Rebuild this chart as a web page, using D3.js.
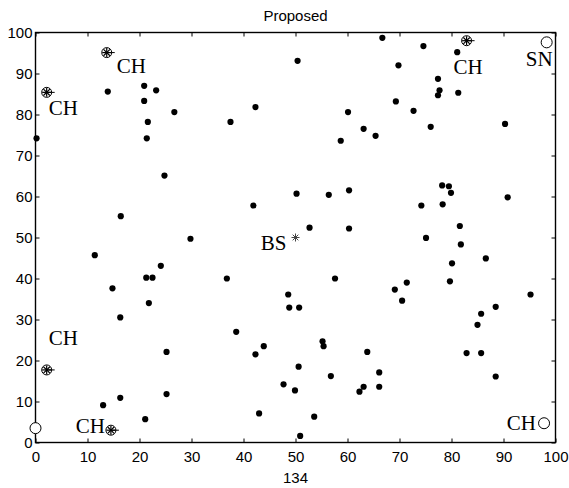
<!DOCTYPE html>
<html><head><meta charset="utf-8">
<script src="https://cdn.jsdelivr.net/npm/d3@7"></script>
<style>
html,body{margin:0;padding:0;background:#fff;}
svg{display:block;}
</style></head>
<body>
<svg id="c" width="569" height="488"></svg>
<script>
// ---- data ----
const title = "Proposed";
const xLabel = "134";
const xTicks = [0,10,20,30,40,50,60,70,80,90,100];
const yTicks = [0,10,20,30,40,50,60,70,80,90,100];

const nodeX = [13.9,20.9,23.2,20.9,26.7,21.6,21.4,0.2,24.8,16.4,29.8,
  66.7,50.4,42.3,37.5,60.1,63.1,65.4,58.7,50.2,56.4,60.3,41.9,52.7,60.3,
  74.6,81.1,69.8,77.4,77.7,77.4,81.3,69.3,72.7,76.0,90.3,78.2,79.5,79.9,90.8,74.2,78.3,81.6,75.1,
  11.4,24.1,21.3,22.5,14.8,21.8,16.3,25.2,25.2,16.3,13.0,21.1,
  36.8,57.6,48.6,48.8,50.7,38.6,43.9,42.3,55.2,55.4,63.8,66.1,50.6,56.8,47.7,49.9,63.1,62.3,66.1,43.0,53.6,50.9,
  81.8,80.1,86.6,69.1,71.4,70.5,79.7,95.2,88.5,85.7,85.0,82.9,85.7,88.5];
const nodeY = [85.6,87.0,85.9,83.3,80.6,78.2,74.2,74.2,65.1,55.2,49.7,
  98.7,93.1,81.8,78.2,80.6,76.5,74.8,73.6,60.7,60.4,61.5,57.8,52.4,52.2,
  96.7,95.2,92.0,88.7,85.9,84.7,85.3,83.2,80.9,77.0,77.7,62.7,62.5,60.9,59.8,57.8,58.1,52.8,49.9,
  45.7,43.1,40.2,40.2,37.6,34.0,30.5,22.1,11.8,10.9,9.1,5.7,
  40.0,40.0,36.1,32.9,32.9,27.0,23.5,21.5,24.7,23.5,22.1,17.1,18.5,16.2,14.2,12.7,13.6,12.4,13.6,7.1,6.3,1.6,
  48.3,43.7,44.9,37.3,39.0,34.6,39.3,36.1,33.1,31.4,28.7,21.8,21.8,16.1];

// cluster heads (circle + asterisk)
const chX = [13.7, 2.15, 82.9, 2.15, 14.5];
const chY = [95.1, 85.4, 98.0, 17.7, 3.0];
const chText = ["CH","CH","CH","CH","CH"];
// open circles
const openX = [98.3, 0, 97.8];
const openY = [97.6, 3.5, 4.7];
const openText = ["SN","","CH"];
// base station
const bsX = [50];
const bsY = [50];
const bsText = ["BS"];

// ---- layout (not data) ----
const chLab = [{dx:10,dy:20,a:"start"},{dx:2,dy:23,a:"start"},{dx:-13,dy:33,a:"start"},{dx:2,dy:-25,a:"start"},{dx:-6,dy:3,a:"end"}];
const openLab = [{dx:6,dy:24,a:"end"},{dx:0,dy:0,a:"start"},{dx:-8,dy:7,a:"end"}];
const bsLab = [{dx:-9,dy:12,a:"end"}];

const L=35.5, R=555.5, T=32.5, B=442.5;
const svg = d3.select("#c");
const x = d3.scaleLinear().domain([0,100]).range([L,R]);
const y = d3.scaleLinear().domain([0,100]).range([B,T]);
const sans = "Liberation Sans, Arial, sans-serif";
const serif = "Liberation Serif, Times New Roman, serif";

function styleAxis(g, labels){
  g.select(".domain").remove();
  g.selectAll(".tick line").attr("stroke","#000").attr("stroke-width",1);
  g.selectAll(".tick text").attr("fill","#000").style("font-family",sans).style("font-size","15px");
  if(!labels) g.selectAll(".tick text").remove();
}
svg.append("g").attr("transform",`translate(0,${B})`)
  .call(d3.axisBottom(x).tickValues(xTicks).tickSize(-4).tickPadding(9).tickFormat(d3.format("d")))
  .call(g=>styleAxis(g,true));
svg.append("g").attr("transform",`translate(0,${T})`)
  .call(d3.axisTop(x).tickValues(xTicks).tickSize(-4))
  .call(g=>styleAxis(g,false));
svg.append("g").attr("transform",`translate(${L},0)`)
  .call(d3.axisLeft(y).tickValues(yTicks).tickSize(-4).tickPadding(3).tickFormat(d3.format("d")))
  .call(g=>styleAxis(g,true));
svg.append("g").attr("transform",`translate(${R},0)`)
  .call(d3.axisRight(y).tickValues(yTicks).tickSize(-4))
  .call(g=>styleAxis(g,false));

svg.append("rect").attr("x",L).attr("y",T).attr("width",R-L).attr("height",B-T)
  .attr("fill","none").attr("stroke","#000").attr("stroke-width",1.4);

svg.append("text").attr("x",(L+R)/2).attr("y",21).attr("text-anchor","middle")
  .style("font-family",sans).style("font-size","15px").text(title);
svg.append("text").attr("x",(L+R)/2).attr("y",483).attr("text-anchor","middle")
  .style("font-family",sans).style("font-size","15px").text(xLabel);

// nodes
svg.append("g").selectAll("circle").data(nodeX).join("circle")
  .attr("cx",(d)=>x(d)).attr("cy",(d,i)=>y(nodeY[i])).attr("r",3.1).attr("fill","#000");

function asterisk(g, cx, cy, s, color, w){
  const a = s*0.707;
  const segs = [[-s,0,s,0],[0,-s,0,s],[-a,-a,a,a],[-a,a,a,-a]];
  segs.forEach(p=>g.append("line").attr("x1",cx+p[0]).attr("y1",cy+p[1]).attr("x2",cx+p[2]).attr("y2",cy+p[3])
    .attr("stroke",color).attr("stroke-width",w));
}

// cluster heads
const chG = svg.append("g");
chX.forEach((v,i)=>{
  const cx=x(v), cy=y(chY[i]);
  chG.append("circle").attr("cx",cx).attr("cy",cy).attr("r",5).attr("fill","none").attr("stroke","#000").attr("stroke-width",1);
  asterisk(chG,cx,cy,4.5,"#000",1.2);
  chG.append("line").attr("x1",cx).attr("y1",cy).attr("x2",cx+8).attr("y2",cy).attr("stroke","#000").attr("stroke-width",1);
  chG.append("text").attr("x",cx+chLab[i].dx).attr("y",cy+chLab[i].dy).attr("text-anchor",chLab[i].a)
    .style("font-family",serif).style("font-size","21px").attr("fill","#000").text(chText[i]);
});

// open circles
const oG = svg.append("g");
openX.forEach((v,i)=>{
  const cx=x(v), cy=y(openY[i]);
  oG.append("circle").attr("cx",cx).attr("cy",cy).attr("r",5.5).attr("fill","#fff").attr("stroke","#000").attr("stroke-width",1);
  if(openText[i]) oG.append("text").attr("x",cx+openLab[i].dx).attr("y",cy+openLab[i].dy).attr("text-anchor",openLab[i].a)
    .style("font-family",serif).style("font-size","21px").attr("fill","#000").text(openText[i]);
});

// base station
const bG = svg.append("g");
bsX.forEach((v,i)=>{
  const cx=x(v), cy=y(bsY[i]);
  asterisk(bG,cx,cy,4,"#444",1);
  bG.append("text").attr("x",cx+bsLab[i].dx).attr("y",cy+bsLab[i].dy).attr("text-anchor",bsLab[i].a)
    .style("font-family",serif).style("font-size","21px").attr("fill","#000").text(bsText[i]);
});
</script>
</body></html>
